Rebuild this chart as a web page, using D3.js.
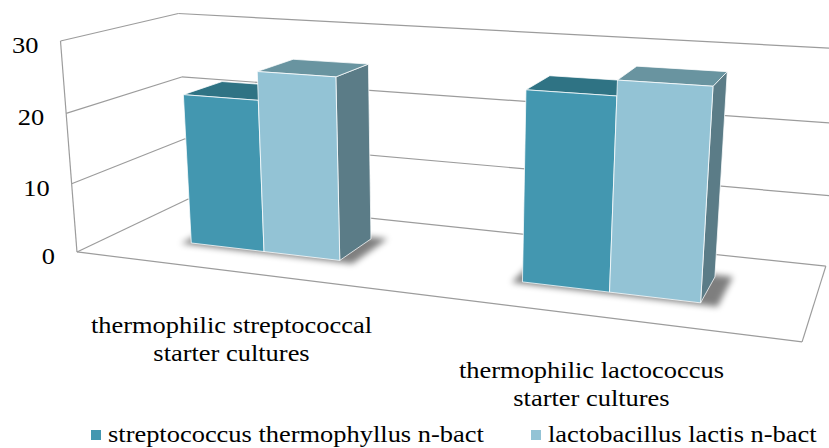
<!DOCTYPE html>
<html><head><meta charset="utf-8">
<script src="https://cdn.jsdelivr.net/npm/d3@7/dist/d3.min.js"></script>
<style>body{margin:0;background:#fff}svg{display:block}</style>
</head><body><svg id="c" width="829" height="448"></svg>
<script>
// ---------------- data ----------------
const categories = ["thermophilic streptococcal starter cultures", "thermophilic lactococcus starter cultures"];
const categoryLines = [["thermophilic streptococcal", "starter cultures"], ["thermophilic lactococcus", "starter cultures"]];
const seriesNames = ["streptococcus thermophyllus n-bact", "lactobacillus lactis n-bact"];
const streptococcusValues = [21.8, 25.8];
const lactobacillusValues = [25.8, 27.8];
const yTicks = [0, 10, 20, 30];

// ---------------- styles ----------------
const faceColors = [
  {front: "#4397B0", top: "#2F7384", side: "#3A6E7C"},
  {front: "#93C3D5", top: "#6994A0", side: "#5B7C87"}
];
const gridColor = "#9c9c9c";
const fontFamily = "Liberation Serif";
const fontSize = 23, textStretch = 1.15;

// ---------------- world scales ----------------
const xCat = d3.scaleBand().domain(categories).range([0, 2]).paddingInner(0.5295).paddingOuter(0.264).align(0.489);
const xSer = d3.scaleBand().domain(seriesNames).range([0, xCat.bandwidth()]);
const yVal = d3.scaleLinear().domain([0, 30]).range([0, 1]);
const barDepth = [0.31, 0.67];

// ---------------- camera (perspective) calibrated on the chart frame ----------------
const frameCalibration = [
  [[0, 1, 0], [59.3, 41]],
  [[0, 2/3, 0], [66, 113.3]],
  [[0, 1/3, 0], [72.3, 183.3]],
  [[0, 0, 0], [77.7, 252.3]],
  [[0, 1, 1], [178.3, 14.3]],
  [[0, 2/3, 1], [183.3, 76]],
  [[0, 0, 1], [186.7, 199.3]],
  [[2, 0, 1], [826, 266]],
  [[2, 0, 0], [802, 342]],
  [[2, 1, 1], [844, 49]]
];
function solveCamera(pts) {
  const A = [], b = [];
  for (const [[X, Y, Z], [u, v]] of pts) {
    A.push([X, Y, Z, 1, 0, 0, 0, 0, -u*X, -u*Y, -u*Z]); b.push(u);
    A.push([0, 0, 0, 0, X, Y, Z, 1, -v*X, -v*Y, -v*Z]); b.push(v);
  }
  const n = 11;
  const M = Array.from({length: n}, () => new Array(n + 1).fill(0));
  for (let r = 0; r < A.length; r++) {
    for (let i = 0; i < n; i++) {
      for (let j = 0; j < n; j++) M[i][j] += A[r][i] * A[r][j];
      M[i][n] += A[r][i] * b[r];
    }
  }
  for (let c = 0; c < n; c++) {
    let p = c;
    for (let r = c + 1; r < n; r++) if (Math.abs(M[r][c]) > Math.abs(M[p][c])) p = r;
    [M[c], M[p]] = [M[p], M[c]];
    for (let r = 0; r < n; r++) {
      if (r === c) continue;
      const f = M[r][c] / M[c][c];
      for (let k = c; k <= n; k++) M[r][k] -= f * M[c][k];
    }
  }
  return M.map((row, i) => row[n] / row[i]);
}
const P = solveCamera(frameCalibration);
function proj(X, Yn, Z) {
  const w = P[8]*X + P[9]*Yn + P[10]*Z + 1;
  return [(P[0]*X + P[1]*Yn + P[2]*Z + P[3]) / w, (P[4]*X + P[5]*Yn + P[6]*Z + P[7]) / w];
}
const poly = pts => pts.map(p => p.join(",")).join(" ");

// ---------------- drawing ----------------
const svg = d3.select("#c");
const defs = svg.append("defs");
defs.append("filter").attr("id", "shadow").attr("x", "-20%").attr("y", "-50%").attr("width", "140%").attr("height", "200%")
  .append("feGaussianBlur").attr("stdDeviation", 3);
defs.append("clipPath").attr("id", "view").append("rect").attr("width", 829).attr("height", 448);

const g = svg.append("g").attr("clip-path", "url(#view)");

function drawLines(cls, data, ends) {
  g.selectAll("line." + cls).data(data).join("line").attr("class", cls)
    .each(function(d) {
      const [a, b] = ends(d);
      d3.select(this).attr("x1", a[0]).attr("y1", a[1]).attr("x2", b[0]).attr("y2", b[1]);
    })
    .attr("stroke", gridColor).attr("stroke-width", 1.2);
}
const ymax = d3.max(yTicks);
drawLines("back", yTicks, t => [proj(0, yVal(t), 1), proj(2, yVal(t), 1)]);
drawLines("side", yTicks, t => [proj(0, yVal(t), 0), proj(0, yVal(t), 1)]);
drawLines("edge", [
  [[0, 0, 0], [0, yVal(ymax), 0]],
  [[0, 0, 0], [2, 0, 0]],
  [[2, 0, 0], [2, 0, 1]]
], e => [proj(...e[0]), proj(...e[1])]);

// bars data
const bars = [];
categories.forEach((c, ci) => {
  [streptococcusValues, lactobacillusValues].forEach((vals, si) => {
    const xa = xCat(c) + xSer(seriesNames[si]);
    bars.push({ci, si, xa, xb: xa + xSer.bandwidth(), h: yVal(vals[ci])});
  });
});

// soft shadows under each group
categories.forEach(c => {
  const xa = xCat(c) - 0.025, xb = xCat(c) + xCat.bandwidth() + 0.045;
  const za = barDepth[0] - 0.025, zb = barDepth[1] + 0.03;
  g.append("polygon")
    .attr("points", poly([proj(xa, 0, za), proj(xb, 0, za), proj(xb, 0, zb), proj(xa, 0, zb)]))
    .attr("fill", "#000").attr("opacity", 0.5).attr("filter", "url(#shadow)");
});

// bars
const [z0, z1] = barDepth;
g.selectAll("g.bar").data(bars).join("g").attr("class", "bar").each(function(d) {
  const s = d3.select(this), col = faceColors[d.si];
  const top = [proj(d.xa, d.h, z0), proj(d.xb, d.h, z0), proj(d.xb, d.h, z1), proj(d.xa, d.h, z1)];
  const side = [proj(d.xb, 0, z0), proj(d.xb, d.h, z0), proj(d.xb, d.h, z1), proj(d.xb, 0, z1)];
  const front = [proj(d.xa, 0, z0), proj(d.xb, 0, z0), proj(d.xb, d.h, z0), proj(d.xa, d.h, z0)];
  [[side, col.side], [top, col.top], [front, col.front]].forEach(([pts, fill]) => {
    s.append("polygon").attr("points", poly(pts)).attr("fill", fill)
      .attr("stroke", "rgba(255,255,255,0.75)").attr("stroke-width", 1).attr("stroke-linejoin", "round");
  });
});

// value tick labels
svg.selectAll("g.ytick").data(yTicks).join("g").attr("class", "ytick")
  .attr("transform", t => { const p = proj(0, yVal(t), 0); return `translate(${p[0] - 22},${p[1] + 12}) scale(${textStretch},1)`; })
  .append("text").attr("text-anchor", "end")
  .attr("font-family", fontFamily).attr("font-size", fontSize).attr("fill", "#000")
  .text(t => t);

// category labels
svg.selectAll("g.xlab").data(categories).join("g").attr("class", "xlab")
  .attr("transform", c => { const p = proj(xCat(c) + xCat.bandwidth() / 2, 0, 0); return `translate(${p[0]},${p[1] + 62}) scale(${textStretch},1)`; })
  .each(function(c, i) {
    d3.select(this).selectAll("text").data(categoryLines[i]).join("text")
      .attr("text-anchor", "middle").attr("y", (l, j) => j * 28)
      .attr("font-family", fontFamily).attr("font-size", fontSize).attr("fill", "#000")
      .text(l => l);
  });

// legend
const legendX = [91, 531];
const leg = svg.selectAll("g.leg").data(seriesNames).join("g").attr("class", "leg")
  .attr("transform", (s, i) => `translate(${legendX[i]},442)`);
leg.append("rect").attr("x", 0).attr("y", -12).attr("width", 10).attr("height", 10)
  .attr("fill", (s, i) => faceColors[i].front);
leg.append("g").attr("transform", `translate(17,0) scale(${textStretch},1)`)
  .append("text").attr("font-family", fontFamily).attr("font-size", fontSize).attr("fill", "#000")
  .text(s => s);
</script>
</body></html>
